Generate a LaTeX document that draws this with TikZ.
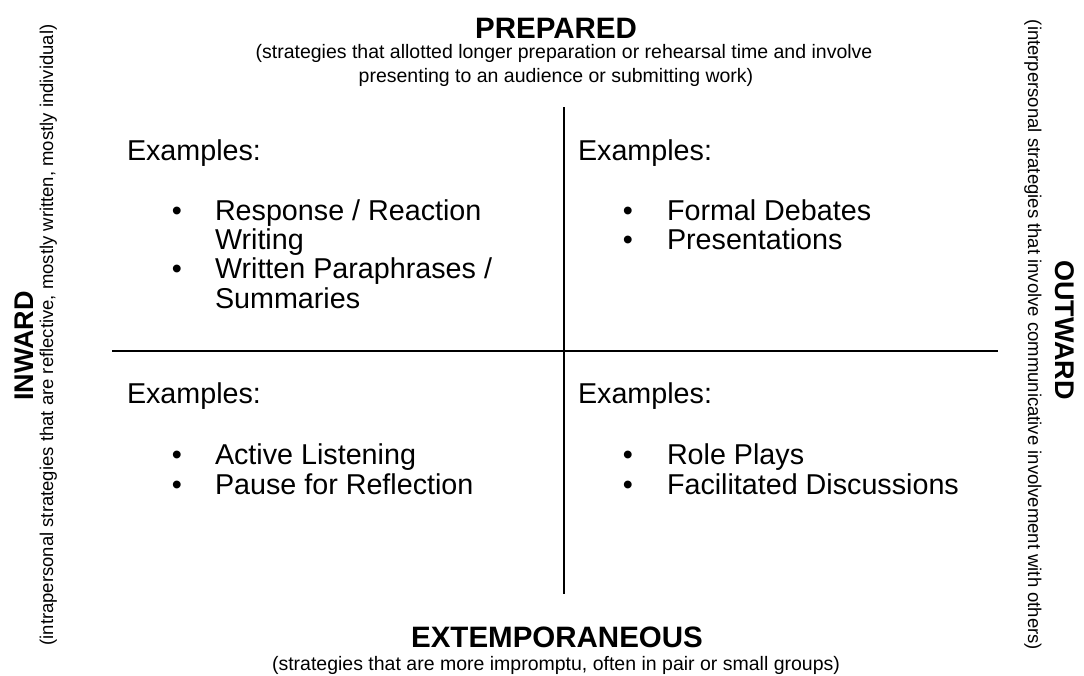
\documentclass[tikz,border=0pt]{standalone}
\usepackage{fontspec}
\setmainfont{Liberation Sans}
\begin{document}
\begin{tikzpicture}[x=1pt,y=-1pt,
  every node/.style={inner sep=0pt,outer sep=0pt},
  head/.style={font=\fontsize{29.5}{32}\selectfont\bfseries},
  sub/.style={font=\fontsize{19.5}{24}\selectfont},
  vhead/.style={font=\fontsize{27}{30}\selectfont\bfseries},
  vsub/.style={font=\fontsize{18.5}{22}\selectfont},
  body/.style={font=\fontsize{28.7}{30}\selectfont,anchor=base west},
  bul/.style={font=\fontsize{28.7}{30}\selectfont,anchor=base}]
\useasboundingbox (0,0) rectangle (1084,675);
% axes
\coordinate (vt) at (564,107);
\coordinate (vb) at (564,594);
\coordinate (hl) at (112,351);
\coordinate (hr) at (998,351);
\draw[line width=1.7pt] (vt) -- (vb);
\draw[line width=1.7pt] (hl) -- (hr);
% top
\node[head,anchor=base] (prep) at (556,38) {PREPARED};
\node[sub,anchor=base] (prepsub1) at (564,58) {(strategies that allotted longer preparation or rehearsal time and involve};
\node[sub,anchor=base] (prepsub2) at (556,82) {presenting to an audience or submitting work)};
% bottom
\node[head,anchor=base] (ext) at (557,647) {EXTEMPORANEOUS};
\node[sub,anchor=base] (extsub) at (556,670) {(strategies that are more impromptu, often in pair or small groups)};
% left
\node[vhead,rotate=90,anchor=base] (inw) at (33,346) {INWARD};
\node[vsub,rotate=90,anchor=base] (inwsub) at (53,335) {(intrapersonal strategies that are reflective, mostly written, mostly individual)};
% right
\node[vhead,rotate=-90,anchor=base] (outw) at (1055,330) {OUTWARD};
\node[vsub,rotate=-90,anchor=base] (outwsub) at (1028,335) {(interpersonal strategies that involve communicative involvement with others)};
% quadrant TL
\node[body] (ex1) at (127,160) {Examples:};
\node[bul] (b11) at (177,220) {\textbullet};
\node[body] (t11) at (215,220) {Response / Reaction};
\node[body] (t11b) at (215,249) {Writing};
\node[bul] (b12) at (177,278) {\textbullet};
\node[body] (t12) at (215,278) {Written Paraphrases /};
\node[body] (t12b) at (215,308) {Summaries};
% quadrant TR
\node[body] (ex2) at (578,160) {Examples:};
\node[bul] (b21) at (628,220) {\textbullet};
\node[body] (t21) at (667,220) {Formal Debates};
\node[bul] (b22) at (628,249) {\textbullet};
\node[body] (t22) at (667,249) {Presentations};
% quadrant BL
\node[body] (ex3) at (127,403) {Examples:};
\node[bul] (b31) at (177,464) {\textbullet};
\node[body] (t31) at (215,464) {Active Listening};
\node[bul] (b32) at (177,494) {\textbullet};
\node[body] (t32) at (215,494) {Pause for Reflection};
% quadrant BR
\node[body] (ex4) at (578,403) {Examples:};
\node[bul] (b41) at (628,464) {\textbullet};
\node[body] (t41) at (667,464) {Role Plays};
\node[bul] (b42) at (628,494) {\textbullet};
\node[body] (t42) at (667,494) {Facilitated Discussions};
\end{tikzpicture}
\end{document}
